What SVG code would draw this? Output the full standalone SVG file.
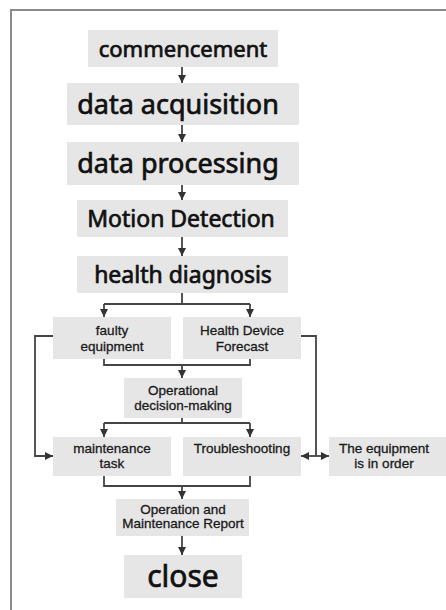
<svg xmlns="http://www.w3.org/2000/svg" width="446" height="610" viewBox="0 0 446 610">
  <style>
    .box { fill: #e6e6e6; }
    .big { font-family: "Noto Sans", "Open Sans", sans-serif; font-weight: 400; fill: #111; stroke: #111; stroke-width: 0.7; text-anchor: middle; }
    .small { font-family: "Liberation Sans", Arial, sans-serif; fill: #1a1a1a; text-anchor: middle; font-size: 13.5px; stroke: #1a1a1a; stroke-width: 0.3; }
    .link { fill: none; stroke: #444; stroke-width: 1.8; }
  </style>
  <defs>
    <marker id="arrow" viewBox="0 0 10 10" refX="10" refY="5" markerWidth="8" markerHeight="8" markerUnits="userSpaceOnUse" orient="auto">
      <path d="M0,0 L10,5 L0,10 z" fill="#333"/>
    </marker>
  </defs>

  <rect width="446" height="610" fill="#ffffff"/>
  <!-- outer frame -->
  <path d="M11,610 V10 H446" fill="none" stroke="#8a8a8a" stroke-width="2"/>

  <g id="connectors">
    <line class="link" x1="182" y1="67" x2="182" y2="83" marker-end="url(#arrow)"/>
    <line class="link" x1="182" y1="125" x2="182" y2="142" marker-end="url(#arrow)"/>
    <line class="link" x1="182" y1="185" x2="182" y2="200" marker-end="url(#arrow)"/>
    <line class="link" x1="182" y1="237" x2="182" y2="256" marker-end="url(#arrow)"/>
    <!-- split after health diagnosis -->
    <path class="link" d="M182,293 V304"/>
    <path class="link" d="M104,304 H250"/>
    <line class="link" x1="104" y1="304" x2="104" y2="317" marker-end="url(#arrow)"/>
    <line class="link" x1="250" y1="304" x2="250" y2="317" marker-end="url(#arrow)"/>
    <!-- merge into operational decision-making -->
    <path class="link" d="M104,359 V365 H250 V359"/>
    <line class="link" x1="182" y1="365" x2="182" y2="378" marker-end="url(#arrow)"/>
    <!-- split after operational decision-making -->
    <path class="link" d="M182,418 V423"/>
    <path class="link" d="M104,423 H250"/>
    <line class="link" x1="104" y1="423" x2="104" y2="437" marker-end="url(#arrow)"/>
    <line class="link" x1="250" y1="423" x2="250" y2="437" marker-end="url(#arrow)"/>
    <!-- faulty equipment to maintenance task -->
    <path class="link" d="M53,336 H35 V456 H53" marker-end="url(#arrow)"/>
    <!-- health forecast to troubleshooting / equipment in order -->
    <path class="link" d="M301,336 H316 V456"/>
    <line class="link" x1="316" y1="456" x2="301" y2="456" marker-end="url(#arrow)"/>
    <line class="link" x1="316" y1="456" x2="329" y2="456" marker-end="url(#arrow)"/>
    <!-- merge into report -->
    <path class="link" d="M104,476 V486 H250 V476"/>
    <line class="link" x1="182" y1="486" x2="182" y2="499" marker-end="url(#arrow)"/>
    <line class="link" x1="182" y1="536" x2="182" y2="555" marker-end="url(#arrow)"/>
  </g>

  <g id="commencement">
    <rect class="box" x="88" y="30" width="190" height="37"/>
    <text class="big" x="183" y="57" font-size="22">commencement</text>
  </g>
  <g id="data-acquisition">
    <rect class="box" x="67" y="83" width="232" height="42"/>
    <text class="big" x="178" y="114" font-size="27">data acquisition</text>
  </g>
  <g id="data-processing">
    <rect class="box" x="67" y="142" width="232" height="43"/>
    <text class="big" x="178" y="173" font-size="27">data processing</text>
  </g>
  <g id="motion-detection">
    <rect class="box" x="77" y="200" width="211" height="37"/>
    <text class="big" x="181" y="227" font-size="23">Motion Detection</text>
  </g>
  <g id="health-diagnosis">
    <rect class="box" x="77" y="256" width="211" height="37"/>
    <text class="big" x="183" y="283" font-size="23">health diagnosis</text>
  </g>
  <g id="faulty-equipment">
    <rect class="box" x="53" y="317" width="118" height="42"/>
    <text class="small" x="112" y="335">faulty</text>
    <text class="small" x="112" y="351">equipment</text>
  </g>
  <g id="health-device-forecast">
    <rect class="box" x="183" y="317" width="118" height="42"/>
    <text class="small" x="242" y="335">Health Device</text>
    <text class="small" x="242" y="351">Forecast</text>
  </g>
  <g id="operational-decision">
    <rect class="box" x="124" y="378" width="118" height="40"/>
    <text class="small" x="183" y="395">Operational</text>
    <text class="small" x="183" y="410">decision-making</text>
  </g>
  <g id="maintenance-task">
    <rect class="box" x="53" y="437" width="118" height="39"/>
    <text class="small" x="112" y="453">maintenance</text>
    <text class="small" x="112" y="468">task</text>
  </g>
  <g id="troubleshooting">
    <rect class="box" x="183" y="437" width="118" height="39"/>
    <text class="small" x="242" y="453">Troubleshooting</text>
  </g>
  <g id="equipment-in-order">
    <rect class="box" x="329" y="437" width="120" height="39"/>
    <text class="small" x="384" y="453">The equipment</text>
    <text class="small" x="384" y="468">is in order</text>
  </g>
  <g id="om-report">
    <rect class="box" x="116" y="499" width="133" height="37"/>
    <text class="small" x="183" y="514" font-size="10.8">Operation and</text>
    <text class="small" x="183" y="528" font-size="10.8">Maintenance Report</text>
  </g>
  <g id="close">
    <rect class="box" x="124" y="555" width="118" height="43"/>
    <text class="big" x="183" y="587" font-size="30">close</text>
  </g>
</svg>
